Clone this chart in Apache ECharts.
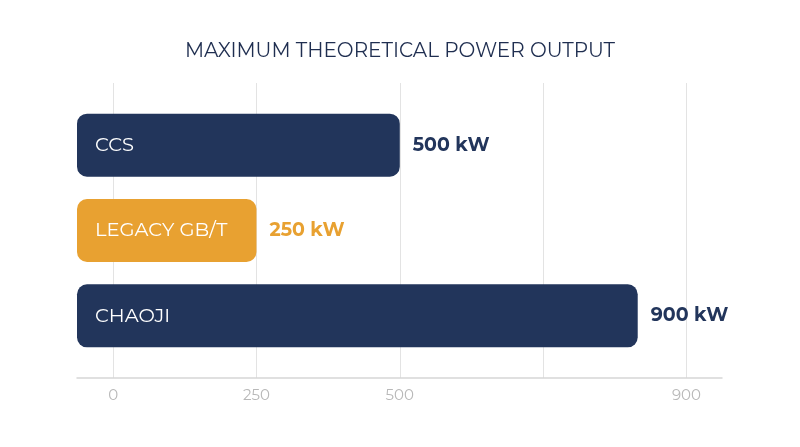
<!DOCTYPE html>
<html>
<head>
<meta charset="utf-8">
<script src="https://cdn.jsdelivr.net/npm/echarts@6/dist/echarts.min.js"></script>
<style>
html, body { margin: 0; padding: 0; background: #fff; }
#chart { width: 800px; height: 447px; }
</style>
</head>
<body>
<div id="chart"></div>
<script>
// 数据
var categories = ['CCS', 'LEGACY GB/T', 'CHAOJI'];
var values = [500, 250, 915];
var valueLabels = ['500 kW', '250 kW', '900 kW'];
var barColors = ['#22355b', '#e8a131', '#22355b'];
var labelColors = ['#22355b', '#e8a131', '#22355b'];
var tickValues = [0, 250, 500, 750, 1000];
var tickLabels = ['0', '250', '500', '', '900'];

var FONT = 'Montserrat, "Open Sans", sans-serif';

function barChart() {
	var myChart = echarts.init(document.getElementById('chart'));
	var data = [];
	var labelData = [];
	for (var i = 0; i < values.length; i++) {
		data.push({
			value: values[i],
			itemStyle: { color: barColors[i] }
		});
		labelData.push({
			value: values[i],
			label: { color: labelColors[i] }
		});
	}
	var option = {
		animation: false,
		title: {
			text: 'MAXIMUM THEORETICAL POWER OUTPUT',
			left: 'center',
			top: 36,
			textStyle: {
				fontFamily: FONT,
				fontSize: 20,
				fontWeight: 'normal',
				color: '#1f2e50'
			}
		},
		grid: [
			{ left: 77, right: 78, top: 83, bottom: 69 },
			{ left: 77, right: 78, top: 102.5, bottom: 88.5 }
		],
		xAxis: [{
			gridIndex: 0,
			type: 'value',
			min: -63,
			max: 1062,
			minInterval: 250,
			maxInterval: 250,
			axisLine: { show: true, lineStyle: { color: '#d6d6d6', width: 1.5 } },
			axisTick: { show: false },
			axisLabel: {
				showMinLabel: false,
				showMaxLabel: false,
				margin: 10,
				color: '#b8b8b8',
				fontFamily: FONT,
				fontSize: 15,
				formatter: function(v) {
					var k = tickValues.indexOf(v);
					return k < 0 ? '' : tickLabels[k];
				}
			},
			splitLine: {
				show: true,
				showMinLine: false,
				showMaxLine: false,
				lineStyle: { color: '#e3e3e3', width: 1 }
			}
		}, {
			gridIndex: 1,
			type: 'value',
			min: -63,
			max: 1062,
			startValue: -63,
			show: false,
			splitLine: { show: false }
		}],
		yAxis: [{
			gridIndex: 0,
			type: 'category',
			data: categories,
			show: false
		}, {
			gridIndex: 1,
			type: 'category',
			data: categories,
			inverse: true,
			show: false
		}],
		series: [{
			type: 'bar',
			xAxisIndex: 1,
			yAxisIndex: 1,
			data: data,
			barWidth: 63,
			itemStyle: { borderRadius: 10 },
			label: {
				show: true,
				position: 'insideLeft',
				distance: 18,
				color: '#fff',
				fontFamily: FONT,
				fontSize: 19.5,
				formatter: function(p) {
					return categories[p.dataIndex];
				}
			}
		}, {
			// 数值标签
			type: 'bar',
			xAxisIndex: 1,
			yAxisIndex: 1,
			data: labelData,
			barWidth: 63,
			barGap: '-100%',
			itemStyle: { color: 'transparent' },
			silent: true,
			label: {
				show: true,
				position: 'right',
				distance: 13,
				fontFamily: FONT,
				fontSize: 19,
				fontWeight: 'bold',
				formatter: function(p) {
					return valueLabels[p.dataIndex];
				}
			}
		}]
	};
	myChart.setOption(option);
}
barChart();
</script>
</body>
</html>
